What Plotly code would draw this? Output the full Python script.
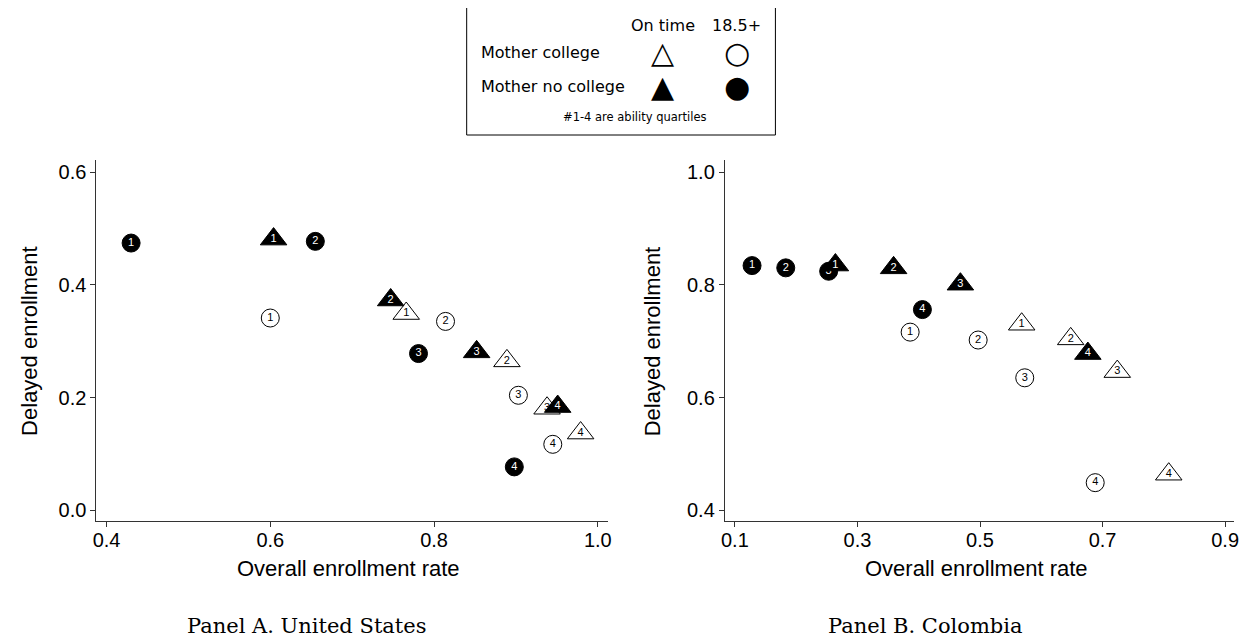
import plotly.graph_objects as go

# page body has an 8px margin; figure is sized to fit the 1248x639 window
OFF = 8
W, H = 1248 - OFF, 639 - OFF

quartiles = ["1", "2", "3", "4"]

# Panel A. United States  (x = overall enrollment rate, y = delayed enrollment)
us_col_ontime_x = [0.766, 0.889, 0.938, 0.979]
us_col_ontime_y = [0.349, 0.265, 0.181, 0.137]
us_col_late_x = [0.600, 0.814, 0.903, 0.945]
us_col_late_y = [0.341, 0.335, 0.204, 0.117]
us_nocol_ontime_x = [0.604, 0.747, 0.852, 0.951]
us_nocol_ontime_y = [0.481, 0.373, 0.281, 0.184]
us_nocol_late_x = [0.430, 0.655, 0.781, 0.898]
us_nocol_late_y = [0.474, 0.477, 0.278, 0.077]

# Panel B. Colombia
co_col_ontime_x = [0.568, 0.648, 0.724, 0.808]
co_col_ontime_y = [0.730, 0.704, 0.646, 0.464]
co_col_late_x = [0.386, 0.497, 0.573, 0.688]
co_col_late_y = [0.716, 0.702, 0.635, 0.449]
co_nocol_ontime_x = [0.264, 0.359, 0.468, 0.676]
co_nocol_ontime_y = [0.835, 0.830, 0.801, 0.678]
co_nocol_late_x = [0.128, 0.183, 0.253, 0.406]
co_nocol_late_y = [0.834, 0.830, 0.824, 0.756]

us_xticks = [0.4, 0.6, 0.8, 1.0]
us_yticks = [0.0, 0.2, 0.4, 0.6]
co_xticks = [0.1, 0.3, 0.5, 0.7, 0.9]
co_yticks = [0.4, 0.6, 0.8, 1.0]

x_title = "Overall enrollment rate"
y_title = "Delayed enrollment"
captions = ["Panel A. United States", "Panel B. Colombia"]

SANS = "Liberation Sans, Arial, sans-serif"
TICKFONT = dict(family=SANS, size=20, color="black")


def px(x):
    return (x - OFF) / W


def py(y):
    return 1 - (y - OFF) / H


fig = go.Figure()


def add_group(xs, ys, symbol, filled, xa, ya, size):
    fig.add_trace(go.Scatter(
        x=xs, y=ys, xaxis=xa, yaxis=ya,
        mode="markers+text",
        text=quartiles,
        textposition="middle center",
        textfont=dict(family=SANS, size=11,
                      color="white" if filled else "black"),
        marker=dict(symbol=symbol, size=size,
                    color="black" if filled else "white",
                    line=dict(color="black", width=1)),
        showlegend=False, hoverinfo="x+y",
        cliponaxis=False,
    ))


for (xa, ya, d) in [("x", "y", "us"), ("x2", "y2", "co")]:
    g = globals()
    add_group(g[d + "_nocol_late_x"], g[d + "_nocol_late_y"], "circle", True, xa, ya, 18)
    add_group(g[d + "_col_late_x"], g[d + "_col_late_y"], "circle", False, xa, ya, 18)
    add_group(g[d + "_col_ontime_x"], g[d + "_col_ontime_y"], "triangle-up", False, xa, ya, 23)
    add_group(g[d + "_nocol_ontime_x"], g[d + "_nocol_ontime_y"], "triangle-up", True, xa, ya, 23)

top_px, bot_px = 160, 521
axis_common = dict(showgrid=False, zeroline=False, showline=True, linecolor="#333333",
                   linewidth=1, ticks="outside", ticklen=5, tickcolor="#333333",
                   tickfont=TICKFONT, tickformat=".1f", mirror=False)

fig.update_layout(
    width=W, height=H,
    margin=dict(l=0, r=0, t=0, b=0),
    paper_bgcolor="white", plot_bgcolor="white",
    xaxis=dict(domain=[px(93), px(608)], range=[0.3876, 1.012], tickvals=us_xticks,
               anchor="y", ticklabelstandoff=-4, **axis_common),
    yaxis=dict(domain=[py(bot_px), py(top_px)], range=[-0.019, 0.6213], tickvals=us_yticks,
               anchor="x", **axis_common),
    xaxis2=dict(domain=[px(726), px(1239)], range=[0.0835, 0.9146], tickvals=co_xticks,
                anchor="y2", ticklabelstandoff=-4, **axis_common),
    yaxis2=dict(domain=[py(bot_px), py(top_px)], range=[0.381, 1.0213], tickvals=co_yticks,
                anchor="x2", **axis_common),
)

TITLEFONT = dict(family=SANS, size=22, color="black")
ann = []
# axis titles
for cx in [347, 980]:
    ann.append(dict(x=px(cx), y=py(568), text=x_title, font=TITLEFONT, xanchor="center"))
for cx in [25, 653]:
    ann.append(dict(x=px(cx), y=py(341), text=y_title, font=TITLEFONT, textangle=-90,
                    xanchor="center"))
# captions
SERIF = dict(family="DejaVu Serif", size=21, color="black")
for cx, t in zip([305, 928], captions):
    ann.append(dict(x=px(cx), y=py(626), text=t, font=SERIF, xanchor="center"))

# key box
LEG = dict(family="DejaVu Sans", size=16, color="black")
SYM = dict(family="DejaVu Sans", size=30, color="black")
ann += [
    dict(x=px(664), y=py(25), text="On time", font=LEG, xanchor="center"),
    dict(x=px(738), y=py(25), text="18.5+", font=LEG, xanchor="center"),
    dict(x=px(478), y=py(53), text="Mother college", font=LEG, xanchor="left"),
    dict(x=px(478), y=py(86), text="Mother no college", font=LEG, xanchor="left"),
    dict(x=px(663), y=py(53), text="\u25b3", font=SYM, xanchor="center"),
    dict(x=px(738), y=py(53), text="\u25cb", font=SYM, xanchor="center"),
    dict(x=px(663), y=py(86), text="\u25b2", font=SYM, xanchor="center"),
    dict(x=px(738), y=py(86), text="\u25cf", font=SYM, xanchor="center"),
    dict(x=px(636), y=py(117), text="#1-4 are ability quartiles",
         font=dict(family="DejaVu Sans", size=11.5, color="black"), xanchor="center"),
]
for a in ann:
    a.setdefault("xref", "paper")
    a.setdefault("yref", "paper")
    a.setdefault("showarrow", False)
    a.setdefault("yanchor", "middle")

fig.update_layout(annotations=ann)
fig.add_shape(type="rect", xref="paper", yref="paper",
              x0=px(466), x1=px(777), y0=py(135), y1=py(7),
              line=dict(color="black", width=1), fillcolor="rgba(0,0,0,0)")

fig.write_html("out.html")
